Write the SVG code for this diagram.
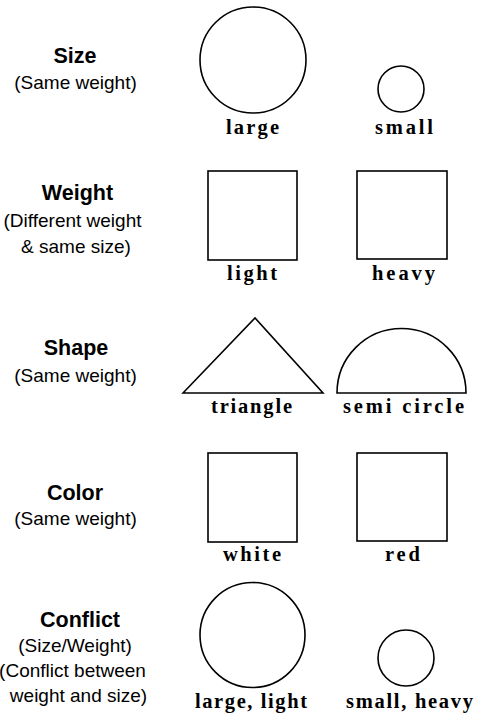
<svg xmlns="http://www.w3.org/2000/svg" width="481" height="714" viewBox="0 0 481 714">
<style>
.shape{fill:none;stroke:#000;stroke-width:1.6}
.title{font-family:"Liberation Sans",Arial,sans-serif;font-weight:bold;font-size:21.5px;text-anchor:middle;fill:#000}
.sub{font-family:"Liberation Sans",Arial,sans-serif;font-size:19px;text-anchor:middle;fill:#000}
.lab{font-family:"Liberation Serif","Times New Roman",serif;font-weight:bold;font-size:20.5px;fill:#000}
</style>
<rect width="481" height="714" fill="#fff"/>
<g id="row-size">
<text class="title" x="75" y="63">Size</text>
<text class="sub" x="75.5" y="89">(Same weight)</text>
</g>
<g id="size-large"><circle class="shape" cx="253" cy="60" r="53"/><text class="lab" x="226" y="134" textLength="53" lengthAdjust="spacing">large</text></g>
<g id="size-small"><circle class="shape" cx="401" cy="89" r="23"/><text class="lab" x="375" y="134" textLength="58" lengthAdjust="spacing">small</text></g>
<g id="row-weight">
<text class="title" x="77.5" y="200">Weight</text>
<text class="sub" x="72.5" y="227">(Different weight</text>
<text class="sub" x="76" y="253">&amp; same size)</text>
</g>
<g id="weight-light"><rect class="shape" x="208" y="171" width="89" height="89"/><text class="lab" x="227" y="280" textLength="50" lengthAdjust="spacing">light</text></g>
<g id="weight-heavy"><rect class="shape" x="357" y="171" width="90" height="88"/><text class="lab" x="372" y="280" textLength="63" lengthAdjust="spacing">heavy</text></g>
<g id="row-shape">
<text class="title" x="76" y="355">Shape</text>
<text class="sub" x="75.5" y="382">(Same weight)</text>
</g>
<g id="shape-triangle"><polygon class="shape" points="183,393 255,318 323,393"/><text class="lab" x="211" y="413" textLength="81" lengthAdjust="spacing">triangle</text></g>
<g id="shape-semicircle"><path class="shape" d="M337,393 A64.5,64.5 0 0 1 466,393 Z"/><text class="lab" x="343" y="413" textLength="121" lengthAdjust="spacing">semi circle</text></g>
<g id="row-color">
<text class="title" x="75" y="500">Color</text>
<text class="sub" x="75.5" y="525">(Same weight)</text>
</g>
<g id="color-white"><rect class="shape" x="208" y="453" width="89" height="89"/><text class="lab" x="223" y="561" textLength="58" lengthAdjust="spacing">white</text></g>
<g id="color-red"><rect class="shape" x="357" y="453" width="90" height="88"/><text class="lab" x="385" y="561" textLength="35" lengthAdjust="spacing">red</text></g>
<g id="row-conflict">
<text class="title" x="80" y="627">Conflict</text>
<text class="sub" x="75" y="652">(Size/Weight)</text>
<text class="sub" x="72.5" y="677">(Conflict between</text>
<text class="sub" x="78.5" y="702">weight and size)</text>
</g>
<g id="conflict-large"><circle class="shape" cx="252.5" cy="635" r="52.5"/><text class="lab" x="195" y="708" textLength="112" lengthAdjust="spacing">large, light</text></g>
<g id="conflict-small"><circle class="shape" cx="406" cy="658" r="28"/><text class="lab" x="346" y="708" textLength="127" lengthAdjust="spacing">small, heavy</text></g>
<g id="connectors"/>
</svg>
